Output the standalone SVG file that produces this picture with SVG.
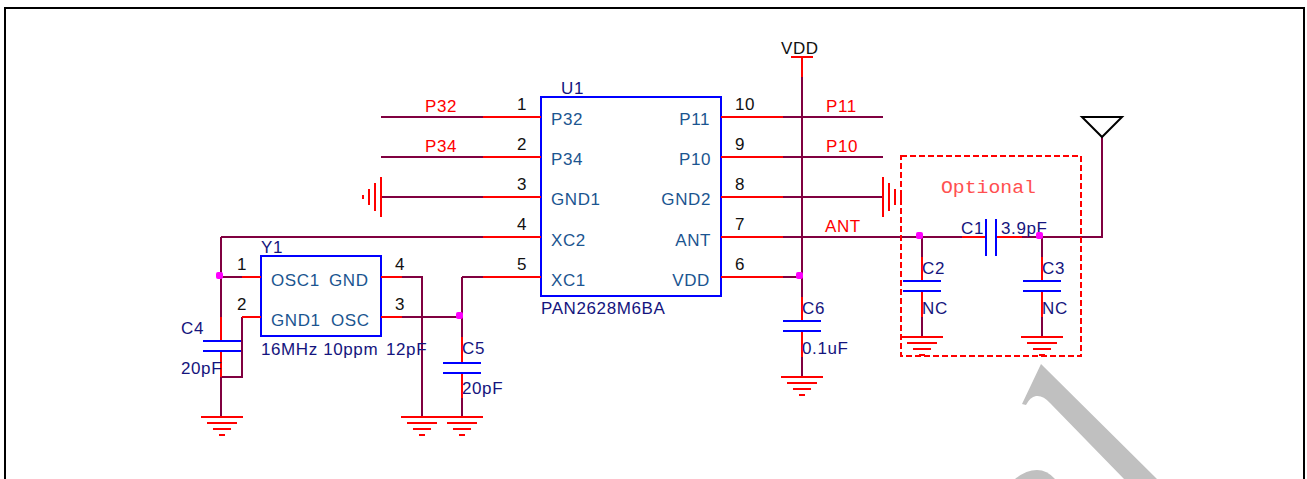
<svg xmlns="http://www.w3.org/2000/svg" width="1307" height="479" viewBox="0 0 1307 479">
<style>
text{font-family:"Liberation Sans",Arial,sans-serif;font-size:17px;letter-spacing:.6px}
.w{stroke:#800040;stroke-width:2;fill:none}
.r{stroke:#ff0000;stroke-width:2;fill:none}
.b{stroke:#0000ff;stroke-width:2;fill:none}
.box{stroke:#0000ff;stroke-width:2;fill:#fff}
.pl{fill:#1b5590}
.num{fill:#111}
.des{fill:#14147d}
.net{fill:#ff0000}
.j{fill:#ff00ff}
</style>
<defs>
<g id="gnd" class="r"><path d="M-21 0H21M-15 6H15M-9 12H9M-3 18H3"/></g>
<g id="gndh" class="r"><path d="M0 -20V20M6 -14V14M12 -8V8M18 -2V2"/></g>
<g id="capv" class="b"><path d="M-19 0H19M-19 10H19"/></g>
</defs>
<rect width="1307" height="479" fill="#fff"/>
<g id="watermark" fill="#c0c0c0">
<path d="M1041 364L1157 479H1124L1050 403Q1043 395 1036 396Q1030 397 1026 405L1022 404Z"/>
<path d="M1015 479Q1026 470 1037 470Q1047 470 1055 479Z"/>
</g>
<rect id="frame" x="5" y="8" width="1299" height="480" fill="none" stroke="#000" stroke-width="2"/>
<g id="connectors">
<path class="w" d="M381 117H483M381 157H483M382 197H483M221 237H483M462 277H483M462 277V337M462 398V417M402 317H462M402 277H422V417M221 237V317M221 377V417M221 277H242M242 317V377H221"/>
<path class="w" d="M783 117H883M783 157H883M783 197H883M783 237H962M783 277H802M802 77V297M802 357V377M922 237V257M922 317V337M1042 237V257M1042 317V337M1022 237H1102V137"/>
</g>
<g id="U1">
<rect class="box" x="541" y="97" width="180" height="199"/>
<path class="r" d="M483 117H541M483 157H541M483 197H541M483 237H541M483 277H541M721 117H783M721 157H783M721 197H783M721 237H783M721 277H783"/>
<text class="des" x="561" y="94">U1</text>
<text class="des" x="541" y="314">PAN2628M6BA</text>
<g class="num"><text x="517" y="110">1</text><text x="517" y="150">2</text><text x="517" y="190">3</text><text x="517" y="230">4</text><text x="517" y="270">5</text><text x="735" y="110">10</text><text x="735" y="150">9</text><text x="735" y="190">8</text><text x="735" y="230">7</text><text x="735" y="270">6</text></g>
<g class="pl"><text x="551" y="125">P32</text><text x="551" y="165">P34</text><text x="551" y="205">GND1</text><text x="551" y="246">XC2</text><text x="551" y="286">XC1</text></g>
<g class="pl" text-anchor="end"><text x="710" y="125">P11</text><text x="711" y="165">P10</text><text x="711" y="205">GND2</text><text x="711" y="246">ANT</text><text x="710" y="286">VDD</text></g>
</g>
<g id="Y1">
<rect class="box" x="261" y="256" width="120" height="80"/>
<path class="r" d="M242 277H261M242 317H261M381 277H402M381 317H402"/>
<text class="des" x="261" y="253">Y1</text>
<text class="des" x="261" y="355">16MHz 10ppm<tspan x="386">12pF</tspan></text>
<g class="num"><text x="237" y="270">1</text><text x="237" y="310">2</text><text x="395" y="270">4</text><text x="395" y="310">3</text></g>
<g class="pl"><text x="271" y="286">OSC1</text><text x="329" y="286">GND</text><text x="271" y="326">GND1</text><text x="331" y="326">OSC</text></g>
</g>
<g id="C4"><path class="r" d="M221 317V341M221 351V377"/><use href="#capv" x="222" y="341"/><text class="des" x="181" y="334">C4</text><text class="des" x="181" y="374">20pF</text></g>
<g id="C5"><path class="r" d="M462 337V363M462 373V398"/><use href="#capv" x="462" y="363"/><text class="des" x="462" y="354">C5</text><text class="des" x="462" y="394">20pF</text></g>
<g id="C6"><path class="r" d="M802 297V321M802 331V357"/><use href="#capv" x="802" y="321"/><text class="des" x="802" y="314">C6</text><text class="des" x="802" y="354">0.1uF</text></g>
<g id="C2"><path class="r" d="M922 257V281M922 291V317"/><use href="#capv" x="922" y="281"/><text class="des" x="922" y="274">C2</text><text class="des" x="922" y="314">NC</text></g>
<g id="C3"><path class="r" d="M1042 257V281M1042 291V317"/><use href="#capv" x="1042" y="281"/><text class="des" x="1042" y="274">C3</text><text class="des" x="1042" y="314">NC</text></g>
<g id="C1"><path class="r" d="M962 237H986M996 237H1022"/><path class="b" d="M986 219V256M996 219V256"/><text class="des" x="961" y="234">C1</text><text class="des" x="1001" y="234">3.9pF</text></g>
<g id="VDD"><path class="r" d="M791 57H813M802 57V77"/><text class="num" x="781" y="54">VDD</text></g>
<g id="gnd-symbols">
<use href="#gnd" x="222" y="417"/><use href="#gnd" x="422" y="417"/><use href="#gnd" x="462" y="417"/><use href="#gnd" x="802" y="377"/><use href="#gnd" x="922" y="337"/><use href="#gnd" x="1042" y="337"/>
<use href="#gndh" transform="translate(381 197) scale(-1 1)"/><use href="#gndh" x="883" y="197"/>
</g>
<g id="net-labels" class="net"><text x="425" y="112">P32</text><text x="425" y="152">P34</text><text x="826" y="112">P11</text><text x="826" y="152">P10</text><text x="825" y="232">ANT</text></g>
<g id="antenna"><path d="M1082 117H1122L1102 137Z" fill="none" stroke="#000" stroke-width="2"/></g>
<g id="optional"><rect x="901" y="156" width="180" height="200" fill="none" stroke="#ff0000" stroke-width="2" stroke-dasharray="6 3"/><text x="941" y="193" style="font-family:'Liberation Mono',monospace;font-size:18px;letter-spacing:0" fill="#ff5050" textLength="95" lengthAdjust="spacingAndGlyphs">Optional</text></g>
<g id="junctions"><rect class="j" x="216" y="272" width="7" height="7" rx="2"/><rect class="j" x="456" y="312" width="7" height="7" rx="2"/><rect class="j" x="796" y="272" width="7" height="7" rx="2"/><rect class="j" x="916" y="232" width="7" height="7" rx="2"/><rect class="j" x="1036" y="232" width="7" height="7" rx="2"/></g>
</svg>
